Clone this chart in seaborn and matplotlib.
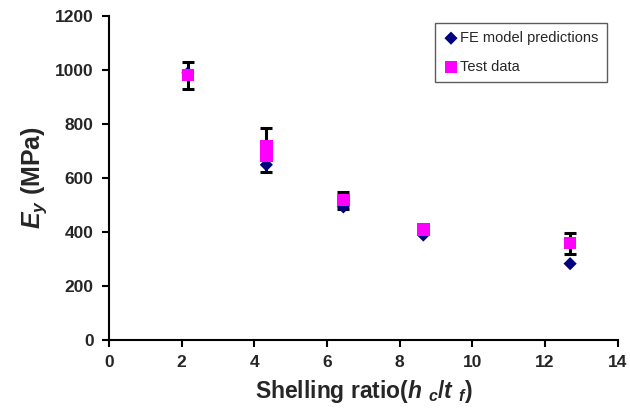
import matplotlib
matplotlib.use("Agg")
import matplotlib.pyplot as plt
import seaborn as sns
import pandas as pd

# Shelling ratio (hc/tf) for each specimen group
ratio = [2.17, 4.33, 6.45, 8.65, 12.69]
# FE model predictions of Ey (MPa)
fe_pred = [988, 648, 492, 388, 282]
# Individual test results (MPa)
test_ratio = [2.17, 4.33, 4.33, 6.45, 8.65, 12.69]
test_vals = [980, 715, 680, 518, 408, 358]
# Mean and spread of test results per group
test_mean = [979, 702, 515, 408, 356]
test_err = [50, 82, 32, 6, 39]

sns.set_style("ticks")
plt.rcParams["font.family"] = ["Liberation Sans", "DejaVu Sans"]
plt.rcParams["mathtext.fontset"] = "custom"
plt.rcParams["mathtext.rm"] = "Liberation Sans:bold"
plt.rcParams["mathtext.it"] = "Liberation Sans:bold:italic"
plt.rcParams["mathtext.bf"] = "Liberation Sans:bold"

fe_df = pd.DataFrame({"ratio": ratio, "Ey": fe_pred})
test_df = pd.DataFrame({"ratio": test_ratio, "Ey": test_vals})

fig = plt.figure(figsize=(6.3, 4.18), dpi=100)
ax = fig.add_axes([0.173, 0.187, 0.8075, 0.7755])

ax.errorbar(ratio, test_mean, yerr=test_err, fmt="none", ecolor="black",
            elinewidth=2.2, capsize=4.5, capthick=2.2, zorder=2)
sns.scatterplot(data=fe_df, x="ratio", y="Ey", ax=ax, marker="D", s=45,
                color="#000080", edgecolor="none", label="FE model predictions",
                zorder=3)
sns.scatterplot(data=test_df, x="ratio", y="Ey", ax=ax, marker="s", s=80,
                color="#FF00FF", edgecolor="none", label="Test data", zorder=4)

ax.set_xlim(0, 14)
ax.set_ylim(0, 1200)
ax.set_xticks(range(0, 15, 2))
ax.set_yticks(range(0, 1201, 200))
for lab in ax.get_xticklabels() + ax.get_yticklabels():
    lab.set_fontweight("bold")
    lab.set_fontsize(12.5)
ax.tick_params(axis="both", direction="out", length=5, width=1.5, color="black",
               pad=6)
for side in ("left", "bottom"):
    ax.spines[side].set_linewidth(1.5)
    ax.spines[side].set_color("black")
sns.despine(ax=ax)

ax.set_xlabel(r"Shelling ratio($h$ $_c$/$t$ $_f$)", fontsize=16.5,
              fontweight="bold", labelpad=6)
ax.set_ylabel(r"$E_y$ (MPa)", fontsize=18, fontweight="bold", labelpad=4)

leg = ax.legend(loc="upper right", bbox_to_anchor=(0.993, 1.0), fontsize=10.5,
                frameon=True, fancybox=False, edgecolor="#333333",
                handletextpad=0.1, borderpad=0.55, labelspacing=1.0,
                handlelength=1.1, markerscale=1.0)
leg.get_frame().set_linewidth(1.0)

fig.savefig("out.png", dpi=100)
